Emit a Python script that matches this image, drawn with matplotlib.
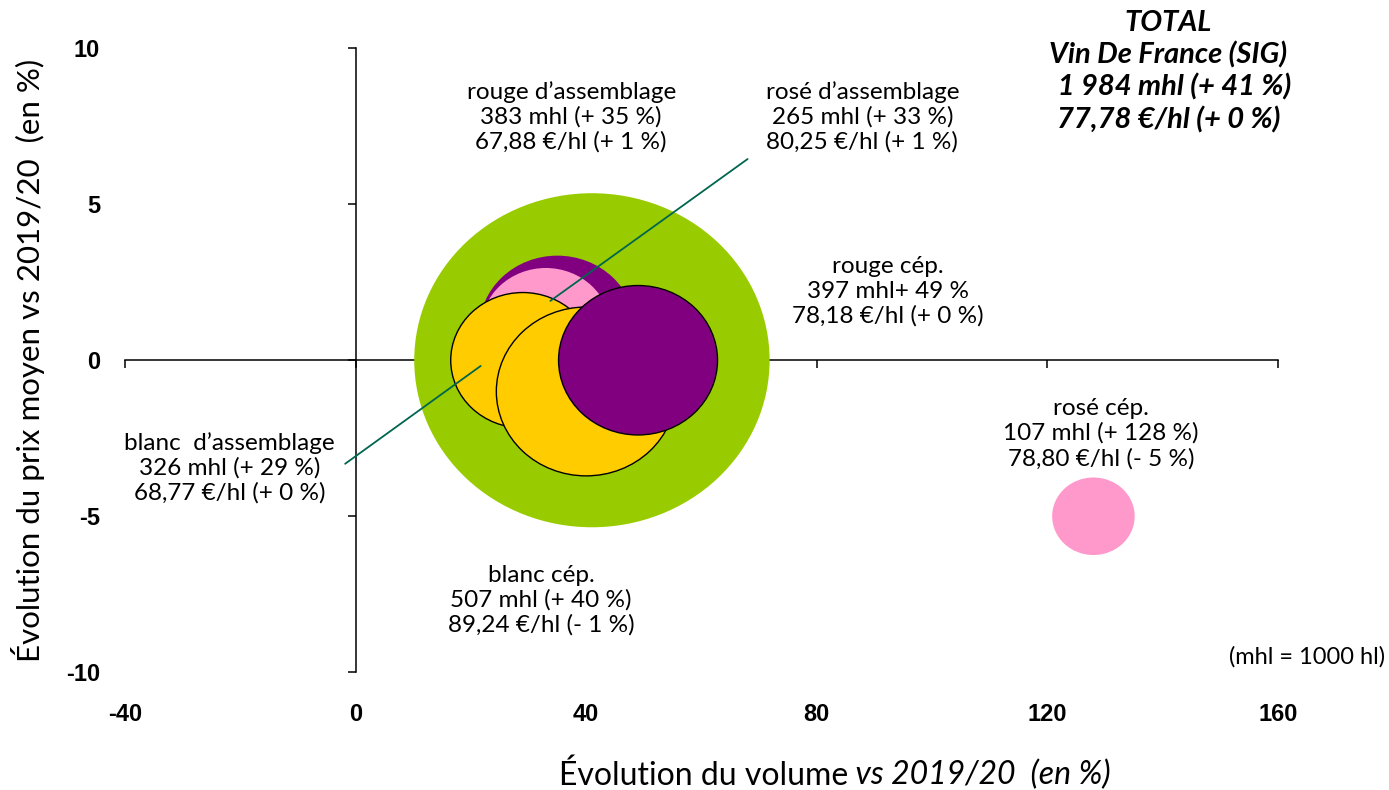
import numpy as np
import matplotlib
matplotlib.use('Agg')
import matplotlib.pyplot as plt
from matplotlib.path import Path
from matplotlib.transforms import Affine2D

# données (mhl, évolution volume %, évolution prix %)
categories = ["TOTAL", "rouge d’assemblage", "rosé d’assemblage", "blanc d’assemblage",
              "blanc cép.", "rouge cép.", "rosé cép."]
volume_mhl = [1984, 383, 265, 326, 507, 397, 107]
vol_change = [41, 35, 33, 29, 40, 49, 128]
price_change = [0, 1, 1, 0, -1, 0, -5]
colors = ['#99CC00', '#800080', '#FF99CC', '#FFCC00', '#FFCC00', '#800080', '#FF99CC']
edges = ['none', 'none', 'none', 'black', 'black', 'black', 'none']

label_texts = [
    None,
    "rouge d’assemblage\n383 mhl (+ 35 %)\n67,88 €/hl (+ 1 %)",
    "rosé d’assemblage\n265 mhl (+ 33 %)\n80,25 €/hl (+ 1 %)",
    "blanc  d’assemblage\n326 mhl (+ 29 %)\n68,77 €/hl (+ 0 %)",
    "blanc cép.\n507 mhl (+ 40 %)\n89,24 €/hl (- 1 %)",
    "rouge cép.\n397 mhl+ 49 %\n78,18 €/hl (+ 0 %)",
    "rosé cép.\n107 mhl (+ 128 %)\n78,80 €/hl (- 5 %)",
]
# position des étiquettes
label_pos = [None, (37.4, 7.8), (87.9, 7.8), (-21.9, -3.45), (32.2, -7.7), (92.4, 2.2), (129.3, -2.35)]

plt.rcParams['font.family'] = ['Lato', 'DejaVu Sans']
plt.rcParams['axes.unicode_minus'] = False

fig = plt.figure(figsize=(13.89, 7.9), dpi=100)
ax = fig.add_axes([0.090, 0.149, 0.830, 0.790])

# bulles légèrement aplaties comme dans l'original
ellipse = Path.unit_circle().transformed(Affine2D().scale(1, 0.94))
ax.scatter(vol_change, price_change, s=np.array(volume_mhl) * 33, c=colors,
           edgecolors=edges, linewidths=1, marker=ellipse, zorder=3)

for txt, pos in zip(label_texts, label_pos):
    if txt is None:
        continue
    ax.text(pos[0], pos[1], txt, ha='center', va='center', fontsize=17.5,
            linespacing=1.2, zorder=5)

# traits de rappel
line_color = '#00664E'
ax.annotate('', xy=(33.4, 1.85), xytext=(68.4, 6.5),
            arrowprops=dict(arrowstyle='-', color=line_color, lw=1.3), zorder=6)
ax.annotate('', xy=(22.1, -0.13), xytext=(-2.2, -3.37),
            arrowprops=dict(arrowstyle='-', color=line_color, lw=1.3), zorder=6)

ax.text(141.0, 9.25, "TOTAL\nVin De France (SIG)\n  1 984 mhl (+ 41 %)\n77,78 €/hl (+ 0 %)",
        ha='center', va='center', fontsize=21, fontweight='bold', fontstyle='italic',
        linespacing=1.25, zorder=5)
ax.text(1.0 + 0.093, 0.025, "(mhl = 1000 hl)", transform=ax.transAxes,
        ha='right', va='center', fontsize=17)

# axes croisés en 0
ax.set_xlim(-40, 160)
ax.set_ylim(-10, 10)
ax.spines['left'].set_position(('data', 0))
ax.spines['bottom'].set_position(('data', 0))
ax.spines['top'].set_visible(False)
ax.spines['right'].set_visible(False)
for sp in ['left', 'bottom']:
    ax.spines[sp].set_linewidth(1.1)
    ax.spines[sp].set_zorder(1)
ax.set_xticks([-40, 0, 40, 80, 120, 160])
ax.set_yticks([-10, -5, 0, 5, 10])
ax.tick_params(axis='x', direction='out', length=6, width=1.1, pad=241)
ax.tick_params(axis='y', direction='out', length=6, width=1.1, pad=178)
for lab in ax.get_xticklabels() + ax.get_yticklabels():
    lab.set_family('Liberation Sans')
    lab.set_fontweight('bold')
    lab.set_fontsize(17)

# titres des axes
ax.text(0.627, -0.165, "Évolution du volume", transform=ax.transAxes,
        ha='right', va='center', fontsize=23)
ax.text(0.627, -0.165, " vs 2019/20  (en %)", transform=ax.transAxes,
        ha='left', va='center', fontsize=23, fontstyle='italic')
ax.text(-0.084, 0.5, "Évolution du prix moyen vs 2019/20  (en %)", transform=ax.transAxes,
        rotation=90, ha='center', va='center', fontsize=22.5)

fig.savefig('out.png', dpi=100)
